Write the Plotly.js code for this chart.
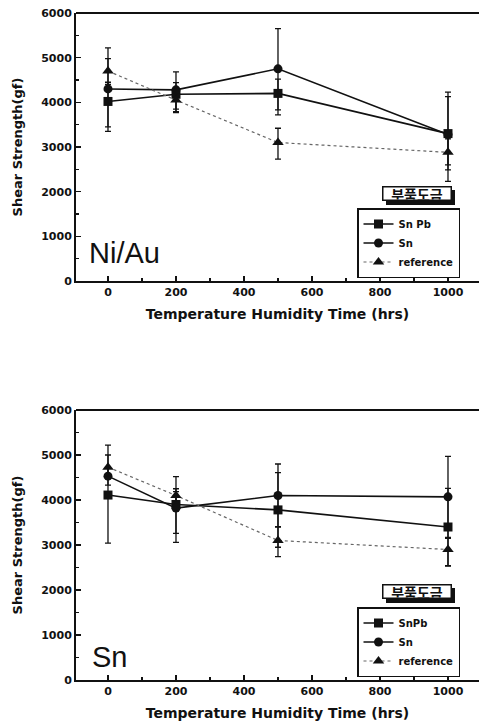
<!DOCTYPE html>
<html>
<head>
<meta charset="utf-8">
<script src="https://cdn.plot.ly/plotly-3.0.1.min.js"></script>
<style>html,body{margin:0;padding:0;background:#fff;}#chart{width:479px;height:722px;}</style>
</head>
<body>
<div id="chart"></div>
<script>
// ---- data ----
const times = [0, 200, 500, 1000];
const seriesNames = ['Sn Pb', 'Sn', 'reference'];
const seriesNames2 = ['SnPb', 'Sn', 'reference'];
const panelLabels = ['Ni/Au', 'Sn'];
const legendTitle = '부품도금';
const xTickVals = [0, 200, 400, 600, 800, 1000];
const yTickVals = [0, 1000, 2000, 3000, 4000, 5000, 6000];

// Ni/Au panel
const niauSnPb = [4020, 4180, 4200, 3300];
const niauSnPbPlus = [430, 260, 320, 830];
const niauSnPbMinus = [670, 390, 480, 1070];
const niauSn = [4300, 4280, 4750, 3280];
const niauSnPlus = [680, 400, 900, 950];
const niauSnMinus = [850, 510, 920, 790];
const niauRef = [4700, 4050, 3100, 2880];
const niauRefPlus = [520, 200, 320, 300];
const niauRefMinus = [300, 200, 370, 280];

// Sn panel
const snSnPb = [4110, 3900, 3780, 3400];
const snSnPbPlus = [890, 285, 830, 860];
const snSnPbMinus = [1070, 640, 830, 860];
const snSn = [4530, 3820, 4100, 4070];
const snSnPlus = [200, 700, 700, 900];
const snSnMinus = [200, 760, 690, 900];
const snRef = [4730, 4100, 3100, 2900];
const snRefPlus = [490, 150, 300, 250];
const snRefMinus = [200, 150, 360, 370];

// ---- styles ----
const symbols = ['square', 'circle', 'triangle-up'];
const lineStyles = [
  {color: '#111', width: 1.6, dash: 'solid'},
  {color: '#111', width: 1.6, dash: 'solid'},
  {color: '#666', width: 1.2, dash: 'dot'}
];
const markerSizes = [9, 9, 10];

function mk(x, y, plus, minus, i, names, xa, ya, leg) {
  return {
    type: 'scatter', mode: 'lines+markers',
    x: x, y: y, name: names[i], xaxis: xa, yaxis: ya, legend: leg,
    line: lineStyles[i],
    marker: {symbol: symbols[i], size: markerSizes[i], color: '#111'},
    error_y: {type: 'data', symmetric: false, array: plus, arrayminus: minus,
      color: '#111', thickness: 1.3, width: 3}
  };
}

const data = [
  mk(times, niauSnPb, niauSnPbPlus, niauSnPbMinus, 0, seriesNames, 'x', 'y', 'legend'),
  mk(times, niauSn, niauSnPlus, niauSnMinus, 1, seriesNames, 'x', 'y', 'legend'),
  mk(times, niauRef, niauRefPlus, niauRefMinus, 2, seriesNames, 'x', 'y', 'legend'),
  mk(times, snSnPb, snSnPbPlus, snSnPbMinus, 0, seriesNames2, 'x2', 'y2', 'legend2'),
  mk(times, snSn, snSnPlus, snSnMinus, 1, seriesNames2, 'x2', 'y2', 'legend2'),
  mk(times, snRef, snRefPlus, snRefMinus, 2, seriesNames2, 'x2', 'y2', 'legend2')
];

const tickFont = {family: 'DejaVu Sans', size: 11, color: '#111', weight: 'bold'};
const titleFont = {family: 'DejaVu Sans', size: 14, color: '#111', weight: 'bold'};

function xax(anchor) {
  return {
    anchor: anchor, domain: [76/479, 1], range: [-94.1, 1091.2],
    showline: true, linecolor: '#111', linewidth: 2, mirror: false,
    showgrid: false, zeroline: false,
    tickmode: 'array', tickvals: xTickVals, ticks: 'inside', ticklen: 5, tickwidth: 1.5, tickcolor: '#111',
    minor: {dtick: 100, tick0: 0, ticks: 'inside', ticklen: 3, tickwidth: 1.2, tickcolor: '#111'},
    tickfont: tickFont,
    title: {text: 'Temperature Humidity Time (hrs)', font: titleFont, standoff: 11}
  };
}
function yax(domain, anchor) {
  return {
    anchor: anchor, domain: domain, range: [0, 6000],
    showline: true, linecolor: '#111', linewidth: 2, mirror: false,
    showgrid: false, zeroline: false,
    tickmode: 'array', tickvals: yTickVals, ticks: 'inside', ticklen: 5, tickwidth: 1.5, tickcolor: '#111',
    minor: {dtick: 500, tick0: 0, ticks: 'inside', ticklen: 3, tickwidth: 1.2, tickcolor: '#111'},
    tickfont: tickFont,
    title: {text: 'Shear Strength(gf)', font: {family: 'DejaVu Sans', size: 13, color: '#111', weight: 'bold'}, standoff: 16}
  };
}

const legendCommon = {
  bgcolor: '#fff', bordercolor: '#111', borderwidth: 1.5,
  font: {family: 'DejaVu Sans', size: 10, color: '#111', weight: 'bold'},
  xanchor: 'left', yanchor: 'bottom', tracegroupgap: 0, itemwidth: 30
};

// shadow behind the Korean label box (px): left, right, top, bottom
function korShadow(l, r, t, b) {
  const px = v => v / 479, py = v => 1 - v / 722;
  return {type: 'rect', xref: 'paper', yref: 'paper', x0: px(l + 4), x1: px(r + 4), y0: py(b + 4), y1: py(t + 4),
    fillcolor: '#111', line: {width: 0}, layer: 'above'};
}
function korLabel(cx, cy) {
  return {
    xref: 'paper', yref: 'paper', x: cx / 479, y: 1 - cy / 722, xanchor: 'center', yanchor: 'middle', showarrow: false,
    text: legendTitle, width: 67, height: 12, align: 'center', valign: 'middle',
    bgcolor: '#fff', bordercolor: '#111', borderwidth: 1.5, borderpad: 0,
    font: {family: 'Noto Sans CJK KR', size: 14, color: '#111', weight: 'bold'}
  };
}

const layout = {
  width: 479, height: 722,
  margin: {l: 0, r: 0, t: 0, b: 0},
  paper_bgcolor: '#fff', plot_bgcolor: '#fff',
  showlegend: true,
  xaxis: xax('y'),
  yaxis: yax([1 - 281/722, 1 - 13/722], 'x'),
  xaxis2: xax('y2'),
  yaxis2: yax([1 - 680/722, 1 - 410/722], 'x2'),
  legend: Object.assign({x: 357/479, y: 1 - 278/722}, legendCommon),
  legend2: Object.assign({x: 357/479, y: 1 - 677/722}, legendCommon),
  shapes: [
    {type: 'line', xref: 'x domain', yref: 'y domain', x0: 0, x1: 1, y0: 1, y1: 1, line: {color: '#111', width: 2}},
    {type: 'line', xref: 'x2 domain', yref: 'y2 domain', x0: 0, x1: 1, y0: 1, y1: 1, line: {color: '#111', width: 2}},
    korShadow(382, 451, 186, 201),
    korShadow(382, 451, 584, 599)
  ],
  annotations: [
    korLabel(416.5, 193.5),
    korLabel(416.5, 591.5),
    {xref: 'paper', yref: 'paper', x: 87/479, y: 1 - 253/722, xanchor: 'left', yanchor: 'middle', showarrow: false,
     text: panelLabels[0], font: {family: 'Liberation Sans', size: 29, color: '#111'}},
    {xref: 'paper', yref: 'paper', x: 90/479, y: 1 - 657/722, xanchor: 'left', yanchor: 'middle', showarrow: false,
     text: panelLabels[1], font: {family: 'Liberation Sans', size: 29, color: '#111'}}
  ]
};

Plotly.newPlot('chart', data, layout, {displayModeBar: false, staticPlot: true});
</script>
</body>
</html>
